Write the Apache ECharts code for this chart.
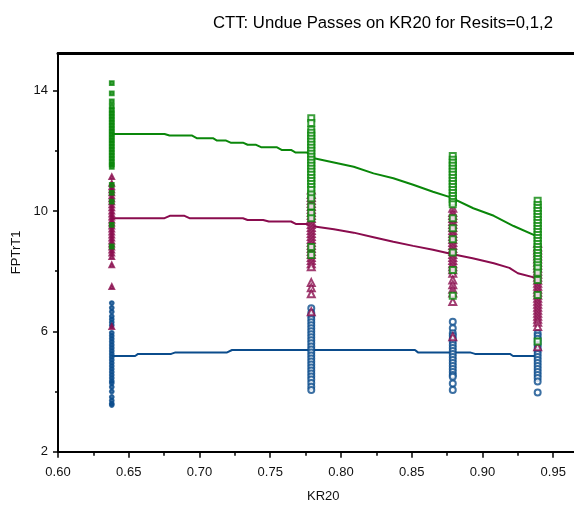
<!DOCTYPE html>
<html><head><meta charset="utf-8">
<script src="https://cdn.jsdelivr.net/npm/echarts@6/dist/echarts.min.js"></script>
<style>html,body{margin:0;padding:0;background:#fff}#c{width:574px;height:506px}</style>
</head><body><div id="c"></div>
<script>
const titleText = 'CTT: Undue Passes on KR20 for Resits=0,1,2';
const xName = 'KR20';
const yName = 'FPTrT1';
const clusterX = [0.638, 0.779, 0.879, 0.939];

// Resits = 0 (blue circles), one list per KR20 cluster
const resit0Y = [
  [6.94, 6.78, 6.65, 6.5, 6.4, 6.3, 6.2, 5.95, 5.85, 5.75, 5.65, 5.55, 5.45, 5.35, 5.25, 5.15, 5.05, 4.95, 4.85, 4.75, 4.65, 4.55, 4.45, 4.35, 4.28, 4.15, 4.0, 3.82, 3.7, 3.6, 3.55],
  [6.77, 6.61, 6.5, 6.4, 6.3, 6.2, 6.1, 6.0, 5.9, 5.8, 5.7, 5.6, 5.5, 5.4, 5.3, 5.2, 5.1, 5.0, 4.9, 4.8, 4.7, 4.6, 4.5, 4.4, 4.28, 4.16, 4.05],
  [6.32, 6.1, 5.94, 5.85, 5.75, 5.65, 5.55, 5.45, 5.35, 5.25, 5.15, 5.05, 4.95, 4.85, 4.75, 4.65, 4.55, 4.49, 4.27, 4.05],
  [5.94, 5.85, 5.75, 5.65, 5.55, 5.45, 5.35, 5.25, 5.15, 5.05, 4.95, 4.85, 4.75, 4.65, 4.55, 4.45, 4.33, 3.97]
];
// Resits = 1 (maroon triangles)
const resit1Y = [
  [11.14, 10.92, 10.8, 10.7, 10.6, 10.5, 10.4, 10.3, 10.2, 10.1, 10.0, 9.9, 9.8, 9.7, 9.6, 9.5, 9.4, 9.3, 9.2, 9.1, 9.0, 8.9, 8.8, 8.7, 8.6, 8.48, 8.21, 7.49, 6.16],
  [10.7, 10.55, 10.45, 10.35, 10.25, 10.15, 10.05, 9.95, 9.85, 9.75, 9.65, 9.55, 9.45, 9.35, 9.25, 9.15, 9.05, 8.95, 8.85, 8.75, 8.65, 8.55, 8.45, 8.35, 8.25, 8.15, 7.62, 7.45, 7.25, 6.65],
  [10.09, 9.95, 9.85, 9.75, 9.65, 9.55, 9.45, 9.35, 9.25, 9.15, 9.05, 8.95, 8.85, 8.75, 8.65, 8.55, 8.45, 8.35, 8.25, 8.15, 8.05, 7.93, 7.71, 7.55, 7.4, 7.27, 6.99, 5.82],
  [8.93, 8.8, 8.7, 8.6, 8.5, 8.4, 8.3, 8.2, 8.1, 8.0, 7.9, 7.8, 7.7, 7.6, 7.5, 7.4, 7.3, 7.2, 7.1, 7.0, 6.9, 6.8, 6.7, 6.6, 6.5, 6.4, 6.3, 6.16, 5.49]
];
// Resits = 2 (green squares)
const resit2Y = [
  [14.25, 13.91, 13.64, 13.47, 13.35, 13.25, 13.15, 13.05, 12.95, 12.85, 12.75, 12.65, 12.55, 12.45, 12.35, 12.25, 12.15, 12.05, 11.95, 11.85, 11.75, 11.65, 11.55, 11.47, 10.87, 10.6, 10.31, 9.54, 8.82],
  [13.08, 12.92, 12.7, 12.6, 12.5, 12.4, 12.3, 12.2, 12.1, 12.0, 11.9, 11.8, 11.7, 11.6, 11.5, 11.4, 11.3, 11.2, 11.1, 11.0, 10.9, 10.8, 10.7, 10.55, 10.42, 10.15, 9.93, 9.76, 8.8, 8.54],
  [11.83, 11.7, 11.6, 11.5, 11.4, 11.3, 11.2, 11.1, 11.0, 10.9, 10.8, 10.7, 10.6, 10.5, 10.4, 10.3, 10.22, 9.76, 9.43, 9.06, 8.62, 8.04, 7.18],
  [10.34, 10.2, 10.1, 10.0, 9.9, 9.8, 9.7, 9.6, 9.5, 9.4, 9.3, 9.2, 9.1, 9.0, 8.9, 8.8, 8.7, 8.6, 8.5, 8.4, 8.3, 8.2, 8.1, 7.95, 7.71, 7.21, 5.66]
];

// Fitted curves
const line0X = [0.638, 0.6545, 0.6566, 0.680, 0.683, 0.7195, 0.723, 0.8523, 0.8544, 0.8912, 0.8947, 0.9194, 0.9216, 0.939];
const line0Y = [5.18, 5.18, 5.25, 5.25, 5.30, 5.30, 5.38, 5.38, 5.30, 5.30, 5.25, 5.25, 5.18, 5.18];
const line1X = [0.638, 0.6753, 0.679, 0.6894, 0.6929, 0.7307, 0.734, 0.745, 0.749, 0.7647, 0.768, 0.776, 0.7788, 0.795, 0.809, 0.823, 0.837, 0.851, 0.865, 0.879, 0.893, 0.908, 0.919, 0.925, 0.939];
const line1Y = [9.76, 9.76, 9.84, 9.84, 9.76, 9.76, 9.70, 9.70, 9.65, 9.65, 9.57, 9.57, 9.50, 9.39, 9.28, 9.13, 8.98, 8.84, 8.71, 8.56, 8.43, 8.26, 8.11, 7.93, 7.76];
const line2X = [0.638, 0.6753, 0.6788, 0.6945, 0.698, 0.7095, 0.7124, 0.7188, 0.722, 0.7307, 0.734, 0.740, 0.7435, 0.7545, 0.758, 0.7647, 0.768, 0.776, 0.7788, 0.781, 0.795, 0.809, 0.823, 0.837, 0.851, 0.865, 0.877, 0.8935, 0.908, 0.922, 0.939];
const line2Y = [12.56, 12.56, 12.51, 12.51, 12.42, 12.42, 12.34, 12.34, 12.27, 12.27, 12.2, 12.2, 12.12, 12.12, 12.03, 12.03, 11.94, 11.94, 11.85, 11.75, 11.61, 11.47, 11.25, 11.09, 10.87, 10.64, 10.46, 10.09, 9.84, 9.50, 9.15];

const xMajorTicks = [0.60, 0.65, 0.70, 0.75, 0.80, 0.85, 0.90, 0.95];
const xMinorTicks = [0.625, 0.675, 0.725, 0.775, 0.825, 0.875, 0.925];
const yMajorTicks = [2, 6, 10, 14];
const yMinorTicks = [4, 8, 12];

const colors = ['#0b4c8c', '#8a0c4e', '#0a870a'];
const font = "'Liberation Sans', Arial, sans-serif";
const X_MIN = 0.6, X_MAX = 0.975, Y_MIN = 2, Y_MAX = 15.25;

function scatterData(ys) {
  const out = [];
  ys.forEach((col, i) => col.forEach(v => out.push([clusterX[i], v])));
  return out;
}
function lineData(xs, ys) { return xs.map((x, i) => [x, ys[i]]); }
function sz(big, small) { return (p) => (p[0] < 0.7 ? small : big); }
function sym(filled, empty) { return (p) => (p[0] < 0.7 ? filled : empty); }

const chart = echarts.init(document.getElementById('c'), null, { renderer: 'canvas' });
chart.setOption({
  animation: false,
  backgroundColor: '#fff',
  textStyle: { fontFamily: font },
  title: {
    text: titleText, left: 208, top: 10,
    textStyle: { fontFamily: font, fontSize: 16.7, fontWeight: 'normal', color: '#000' }
  },
  grid: { left: 58, top: 53, width: 530.6, height: 398.7, containLabel: false, outerBoundsMode: 'none' },
  xAxis: [
    {
      type: 'value', min: X_MIN, max: X_MAX,
      axisLine: { show: true, onZero: false, lineStyle: { color: '#000', width: 2 } },
      axisTick: { show: true, customValues: xMajorTicks, length: 6, lineStyle: { color: '#000', width: 1.5 } },
      axisLabel: { customValues: xMajorTicks, formatter: v => v.toFixed(2), fontSize: 13, color: '#111', margin: 14, fontFamily: font },
      splitLine: { show: false },
      name: xName, nameLocation: 'middle', nameGap: 38,
      nameTextStyle: { fontSize: 13, color: '#111', fontFamily: font }
    },
    {
      type: 'value', position: 'top', min: X_MIN, max: X_MAX,
      axisLine: { show: true, onZero: false, lineStyle: { color: '#000', width: 3 } },
      axisTick: { show: false }, axisLabel: { show: false }, splitLine: { show: false }
    },
    {
      type: 'value', position: 'bottom', min: X_MIN, max: X_MAX,
      axisLine: { show: false, onZero: false },
      axisTick: { show: true, customValues: xMinorTicks, length: 4, lineStyle: { color: '#000', width: 1.5 } },
      axisLabel: { show: false }, splitLine: { show: false }
    }
  ],
  yAxis: [
    {
      type: 'value', min: Y_MIN, max: Y_MAX,
      axisLine: { show: true, onZero: false, lineStyle: { color: '#000', width: 2 } },
      axisTick: { show: true, customValues: yMajorTicks, length: 5, lineStyle: { color: '#000', width: 1.5 } },
      axisLabel: { customValues: yMajorTicks, fontSize: 13, color: '#111', margin: 10, fontFamily: font },
      splitLine: { show: false },
      name: yName, nameLocation: 'middle', nameGap: 26, nameRotate: 90,
      nameTextStyle: { fontSize: 13, color: '#111', fontFamily: font }
    },
    {
      type: 'value', min: Y_MIN, max: Y_MAX, position: 'left',
      axisLine: { show: false },
      axisTick: { show: true, customValues: yMinorTicks, length: 3, lineStyle: { color: '#000', width: 1.5 } },
      axisLabel: { show: false }, splitLine: { show: false }
    }
  ],
  series: [
    { type: 'line', data: lineData(line0X, line0Y), symbol: 'none', lineStyle: { color: colors[0], width: 2 }, z: 1 },
    { type: 'line', data: lineData(line1X, line1Y), symbol: 'none', lineStyle: { color: colors[1], width: 2 }, z: 1 },
    { type: 'line', data: lineData(line2X, line2Y), symbol: 'none', lineStyle: { color: colors[2], width: 2 }, z: 1 },
    { type: 'scatter', data: scatterData(resit0Y), symbol: sym('circle', 'emptyCircle'), symbolSize: sz(6, 4),
      itemStyle: { color: colors[0], borderColor: colors[0], borderWidth: 1.8 }, z: 2 },
    { type: 'scatter', data: scatterData(resit1Y), symbol: sym('triangle', 'emptyTriangle'), symbolSize: sz(7, 5),
      itemStyle: { color: colors[1], borderColor: colors[1], borderWidth: 1.8 }, z: 3 },
    { type: 'scatter', data: scatterData(resit2Y), symbol: sym('rect', 'emptyRect'), symbolSize: sz(6, 4),
      itemStyle: { color: colors[2], borderColor: colors[2], borderWidth: 1.8 }, z: 4 }
  ]
});
</script></body></html>
